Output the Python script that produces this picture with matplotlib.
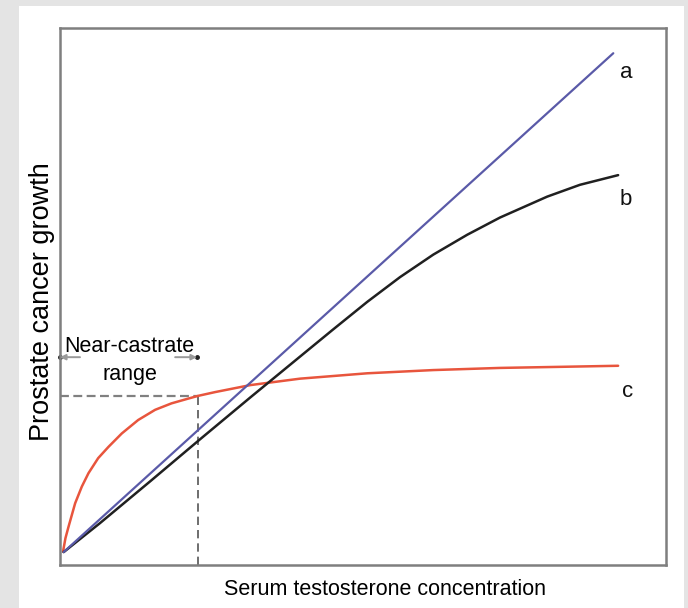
import numpy as np
import matplotlib
matplotlib.use("Agg")
import matplotlib.pyplot as plt
from matplotlib.patches import Rectangle

plt.rcParams['font.family'] = ['Liberation Sans', 'DejaVu Sans']

# curve a: straight line (androgen-dependent growth)
a_x = [0.06, 9.13]
a_y = [0.24, 9.53]

# curve b: black, bends over at high testosterone
b_x = [0.06, 0.66, 1.49, 2.31, 3.14, 3.96, 4.50, 5.07, 5.61, 6.16, 6.72, 7.26,
       8.04, 8.58, 9.21]
b_y = [0.24, 0.78, 1.56, 2.34, 3.12, 3.88, 4.38, 4.90, 5.36, 5.78, 6.15, 6.47,
       6.86, 7.08, 7.26]

# curve c: red, saturation model
c_x = [0.05, 0.09, 0.14, 0.25, 0.36, 0.47, 0.63, 0.80, 1.02, 1.29, 1.57, 1.84,
       2.12, 2.28, 2.56, 3.14, 3.96, 5.07, 6.16, 7.26, 8.25, 9.21]
c_y = [0.25, 0.50, 0.71, 1.15, 1.46, 1.71, 1.99, 2.20, 2.45, 2.70, 2.89, 3.01,
       3.10, 3.15, 3.22, 3.35, 3.47, 3.57, 3.63, 3.67, 3.69, 3.71]

curve_labels = ['a', 'b', 'c']
label_x = [9.34, 9.34, 9.36]
label_y = [9.07, 6.70, 3.13]

castrate_x = 2.28
castrate_y = 3.15

fig = plt.figure(figsize=(6.88, 6.08), dpi=100, facecolor='#e4e4e4')
panel = Rectangle((19 / 688, 0), 665 / 688, 602 / 608,
                  transform=fig.transFigure, facecolor='white',
                  edgecolor='none', zorder=-10)
fig.patches.append(panel)

ax = fig.add_axes([60 / 688, 43 / 608, 606 / 688, 537 / 608])
ax.set_xlim(0, 10)
ax.set_ylim(0, 10)
ax.set_xticks([])
ax.set_yticks([])
for sp in ax.spines.values():
    sp.set_color('#7f7f7f')
    sp.set_linewidth(1.8)

# dashed guide lines for the near-castrate range
ax.plot([0, castrate_x], [castrate_y, castrate_y], color='#808080', lw=1.6,
        linestyle=(0, (4, 2)))
ax.plot([castrate_x, castrate_x], [0, castrate_y], color='#555555', lw=1.2,
        linestyle=(0, (5, 3)))

ax.plot(c_x, c_y, color='#e8553d', lw=1.8, solid_capstyle='round',
        solid_joinstyle='round')
ax.plot(b_x, b_y, color='#202020', lw=1.8, solid_capstyle='round',
        solid_joinstyle='round')
ax.plot(a_x, a_y, color='#5a5aa8', lw=1.6, solid_capstyle='round')

for lab, lx, ly in zip(curve_labels, label_x, label_y):
    ax.text(lx, ly, lab, fontsize=16, ha='center', va='baseline', color='#111111')

# arrows marking the range
ax.annotate('', xy=(0.0, 3.87), xytext=(0.33, 3.87),
            arrowprops=dict(arrowstyle='-|>', color='#9a9a9a', lw=1.4,
                            mutation_scale=8, shrinkA=0, shrinkB=0),
            annotation_clip=False)
ax.annotate('', xy=(2.26, 3.87), xytext=(1.90, 3.87),
            arrowprops=dict(arrowstyle='-|>', color='#9a9a9a', lw=1.4,
                            mutation_scale=8, shrinkA=0, shrinkB=0))
ax.plot([0.0, 2.26], [3.87, 3.87], 'o', color='#222222', ms=2.5, clip_on=False)
ax.text(1.14, 3.97, 'Near-castrate', fontsize=15.5, ha='center', va='baseline')
ax.text(1.15, 3.45, 'range', fontsize=15.5, ha='center', va='baseline')

ax.text(5.36, -0.56, 'Serum testosterone concentration', fontsize=15.5,
        ha='center', va='baseline', clip_on=False)
ax.text(-0.30, 4.90, 'Prostate cancer growth', fontsize=19.5, rotation=90,
        ha='center', va='center', clip_on=False)

fig.savefig('out.png', dpi=100, facecolor=fig.get_facecolor())
